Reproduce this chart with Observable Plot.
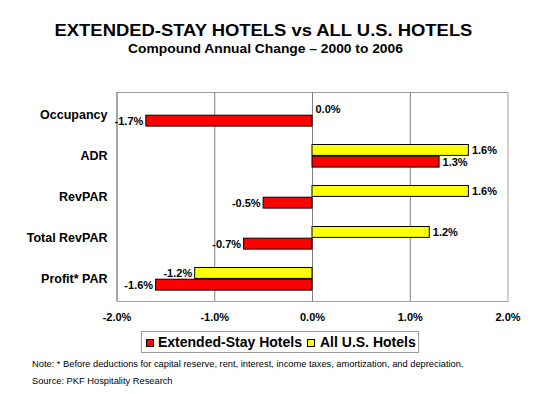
<!DOCTYPE html>
<html>
<head>
<meta charset="utf-8">
<script src="https://cdn.jsdelivr.net/npm/d3@7"></script>
<script src="https://cdn.jsdelivr.net/npm/@observablehq/plot@0.6"></script>
<style>
  html, body { margin: 0; padding: 0; background: #fff; }
  #page { position: relative; width: 543px; height: 394px; overflow: hidden; font-family: "Liberation Sans", Arial, sans-serif; color: #000; }
  #page svg { position: absolute; left: 0; top: 0; }
  .t { position: absolute; white-space: nowrap; line-height: 1; }
  .title { left: -8px; width: 543px; top: 22.5px; text-align: center; font-size: 16px; font-weight: bold; transform: scaleX(1.15); transform-origin: center; }
  .subtitle { left: -6.5px; width: 543px; top: 42.8px; text-align: center; font-size: 12px; font-weight: bold; transform: scaleX(1.15); transform-origin: center; }
  .legendbox { position: absolute; left: 140.5px; top: 331px; width: 278px; height: 22px; border: 1px solid #9a9a9a; box-sizing: border-box; }
  .sw { position: absolute; width: 8px; height: 8px; border: 1px solid #000; box-sizing: border-box; top: 339px; }
  .leg { font-size: 14px; font-weight: bold; top: 335.4px; }
  .note { font-size: 9.3px; left: 32px; }
</style>
</head>
<body>
<div id="page"></div>
<script>
const categories = ["Occupancy", "ADR", "RevPAR", "Total RevPAR", "Profit* PAR"];
const extendedStay = [-1.7, 1.3, -0.5, -0.7, -1.6];
const allUS = [0.0, 1.6, 1.6, 1.2, -1.2];
const seriesNames = ["Extended-Stay Hotels", "All U.S. Hotels"];
const seriesColors = ["#ff0000", "#ffff00"];
const xTicks = [-2, -1, 0, 1, 2];
const gridTicks = [-1, 0, 1];
const titleText = "EXTENDED-STAY HOTELS vs ALL U.S. HOTELS";
const subtitleText = "Compound Annual Change \u2013 2000 to 2006";
const noteText = "Note: * Before deductions for capital reserve, rent, interest, income taxes, amortization, and depreciation.";
const sourceText = "Source: PKF Hospitality Research";

const ext = categories.map((c, i) => ({category: c, value: extendedStay[i]}));
const us = categories.map((c, i) => ({category: c, value: allUS[i]}));
const fmt = v => v.toFixed(1) + "%";

const labelStyle = {fontSize: 11, fontWeight: "bold", fill: "#000"};

const chart = Plot.plot({
  width: 543,
  height: 394,
  marginTop: 92,
  marginBottom: 93,
  marginLeft: 116.5,
  marginRight: 35.5,
  style: {fontFamily: "'Liberation Sans', Arial, sans-serif", background: "transparent", overflow: "visible"},
  x: {domain: [-2, 2]},
  y: {domain: categories, padding: 0},
  marks: [
    Plot.frame({stroke: "#a0a0a0"}),
    Plot.ruleX(gridTicks, {stroke: "#808080"}),
    Plot.ruleX([-2], {stroke: "#808080"}),
    Plot.barX(us, {x: "value", y: "category", fill: seriesColors[1], stroke: "#000", strokeWidth: 1, insetTop: 9.5, insetBottom: 20.6}),
    Plot.barX(ext, {x: "value", y: "category", fill: seriesColors[0], stroke: "#000", strokeWidth: 1, insetTop: 21.2, insetBottom: 8.9}),
    Plot.text(us.filter(d => d.value >= 0), {x: "value", y: "category", text: d => fmt(d.value), textAnchor: "start", dx: 3, dy: -5.5, ...labelStyle}),
    Plot.text(us.filter(d => d.value < 0), {x: "value", y: "category", text: d => fmt(d.value), textAnchor: "end", dx: -3, dy: -5.5, ...labelStyle}),
    Plot.text(ext.filter(d => d.value >= 0), {x: "value", y: "category", text: d => fmt(d.value), textAnchor: "start", dx: 3, dy: 6, ...labelStyle}),
    Plot.text(ext.filter(d => d.value < 0), {x: "value", y: "category", text: d => fmt(d.value), textAnchor: "end", dx: -3, dy: 6, ...labelStyle}),
    Plot.axisX({ticks: xTicks, tickFormat: fmt, tickSize: 0, tickPadding: 12, fontSize: 11, fontWeight: "bold", label: null}),
    Plot.axisY({tickSize: 0, tickPadding: 9.5, fontSize: 12.5, fontWeight: "bold", label: null})
  ]
});

const page = document.getElementById("page");
page.appendChild(chart);

function addDiv(cls, text, style) {
  const d = document.createElement("div");
  d.className = cls;
  if (text != null) d.textContent = text;
  Object.assign(d.style, style || {});
  page.appendChild(d);
  return d;
}
addDiv("t title", titleText);
addDiv("t subtitle", subtitleText);
addDiv("legendbox", null);
addDiv("sw", null, {left: "145.5px", background: seriesColors[0]});
addDiv("t leg", seriesNames[0], {left: "158px"});
addDiv("sw", null, {left: "306.5px", background: seriesColors[1]});
addDiv("t leg", seriesNames[1], {left: "320px"});
addDiv("t note", noteText, {top: "359.8px"});
addDiv("t note", sourceText, {top: "376.6px"});
</script>
</body>
</html>
